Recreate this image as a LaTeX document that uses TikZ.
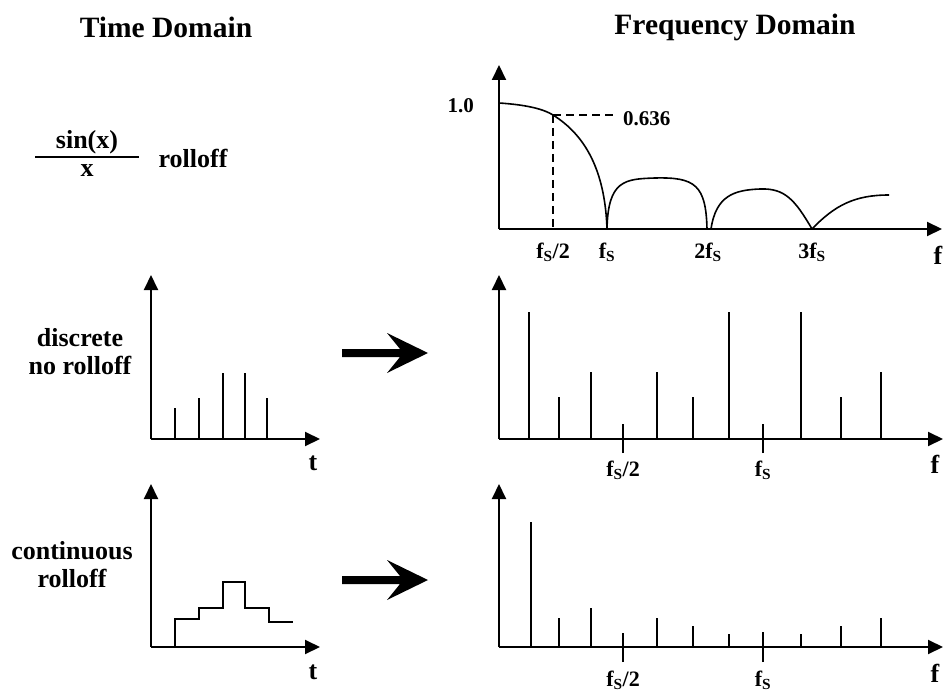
\documentclass[tikz,border=0pt]{standalone}
\usepackage{fontspec}
\setmainfont{Liberation Serif}
\usetikzlibrary{arrows.meta}
\newcommand{\fsub}{f\textsubscript{S}}
\begin{document}
\begin{tikzpicture}[x=1pt,y=-1pt,
  ax/.style={line width=2pt,-{Triangle[length=15pt,width=14pt]}},
  barline/.style={line width=2pt},
  curve/.style={line width=1.6pt},
  dashline/.style={line width=1.6pt,dash pattern=on 8pt off 5pt},
  title/.style={font=\fontsize{29.5}{32}\selectfont\bfseries,inner sep=0pt},
  lbl/.style={font=\fontsize{26}{28}\selectfont\bfseries,inner sep=0pt},
  tick/.style={font=\fontsize{22}{24}\selectfont\bfseries,inner sep=0pt},
  num/.style={font=\fontsize{21}{23}\selectfont\bfseries,inner sep=0pt},
  bigarrow/.style={fill=black}
]
\useasboundingbox (0,0) rectangle (948,698);

% titles
\node[title] (tTime) at (166,27) {Time Domain};
\node[title] (tFreq) at (735,27) {Frequency Domain};

% left labels
\node[lbl] (sinx) at (87,142) {sin(x)};
\node[lbl] (xden) at (87,171) {x};
\draw[line width=2pt] (35,157) -- (139,157);
\node[lbl] (roll1) at (193,158) {rolloff};
\node[lbl,align=center] (disc) at (80,352) {discrete\\no rolloff};
\node[lbl,align=center] (cont) at (72,565) {continuous\\rolloff};

% ===== top frequency plot =====
\coordinate (o1) at (499,229);
\draw[ax] (o1) -- (499,65);
\draw[ax] (o1) -- (942,229);
\draw[curve] (499,103) .. controls (530,105) and (545,110) .. (553,115)
  .. controls (585,135) and (605,170) .. (607,229);
\draw[curve] (607,229) .. controls (608,180) and (625,179) .. (655,178)
  .. controls (695,177) and (706,185) .. (707,229);
\draw[curve] (711,229) .. controls (716,195) and (735,190) .. (760,189)
  .. controls (785,188) and (795,200) .. (812,229);
\draw[curve] (812,229) .. controls (835,205) and (855,195) .. (889,195);
\draw[dashline] (553,115) -- (617,115);
\draw[dashline] (553,115) -- (553,229);
\node[num,anchor=east] (one) at (474,106) {1.0};
\node[num,anchor=west] (val) at (623,119) {0.636};
\node[tick] (ta1) at (553,252) {\fsub/2};
\node[tick] (ta2) at (607,252) {\fsub};
\node[tick] (ta3) at (708,252) {2\fsub};
\node[tick] (ta4) at (812,252) {3\fsub};
\node[lbl] (fa) at (938,255) {f};

% ===== middle time plot =====
\coordinate (o2) at (151,439);
\draw[ax] (o2) -- (151,275);
\draw[ax] (o2) -- (320,439);
\foreach \x/\y in {175/408,199/398,223/373,245/373,267/398}
  \draw[barline] (\x,439) -- (\x,\y);
\node[lbl] (tb) at (313,463) {t};

% ===== middle frequency plot =====
\coordinate (o3) at (499,439);
\draw[ax] (o3) -- (499,275);
\draw[ax] (o3) -- (943,439);
\foreach \x/\y in {529/312,559/397,591/372,657/372,693/397,729/312,801/312,841/397,881/372}
  \draw[barline] (\x,439) -- (\x,\y);
\draw[barline] (623,453) -- (623,424);
\draw[barline] (763,453) -- (763,424);
\node[tick] (tc1) at (623,470) {\fsub/2};
\node[tick] (tc2) at (763,470) {\fsub};
\node[lbl] (fc) at (935,464) {f};

% ===== bottom time plot =====
\coordinate (o4) at (151,647);
\draw[ax] (o4) -- (151,484);
\draw[ax] (o4) -- (320,647);
\draw[line width=2pt] (175,647) -- (175,619) -- (199,619) -- (199,608) -- (223,608)
  -- (223,582) -- (245,582) -- (245,608) -- (269,608) -- (269,622) -- (293,622);
\node[lbl] (td) at (313,672) {t};

% ===== bottom frequency plot =====
\coordinate (o5) at (499,647);
\draw[ax] (o5) -- (499,484);
\draw[ax] (o5) -- (943,647);
\foreach \x/\y in {531/522,559/618,591/608,657/618,693/626,729/634,801/634,841/626,881/618}
  \draw[barline] (\x,647) -- (\x,\y);
\draw[barline] (623,662) -- (623,633);
\draw[barline] (763,662) -- (763,632);
\node[tick] (te1) at (623,680) {\fsub/2};
\node[tick] (te2) at (763,680) {\fsub};
\node[lbl] (fe) at (935,673) {f};

% big arrows
\fill[bigarrow] (342,349) -- (400,349) -- (387,333) -- (428,353) -- (387,373)
  -- (400,357) -- (342,357) -- cycle;
\fill[bigarrow] (342,576) -- (400,576) -- (387,560) -- (428,580) -- (387,600)
  -- (400,584) -- (342,584) -- cycle;
\end{tikzpicture}
\end{document}
